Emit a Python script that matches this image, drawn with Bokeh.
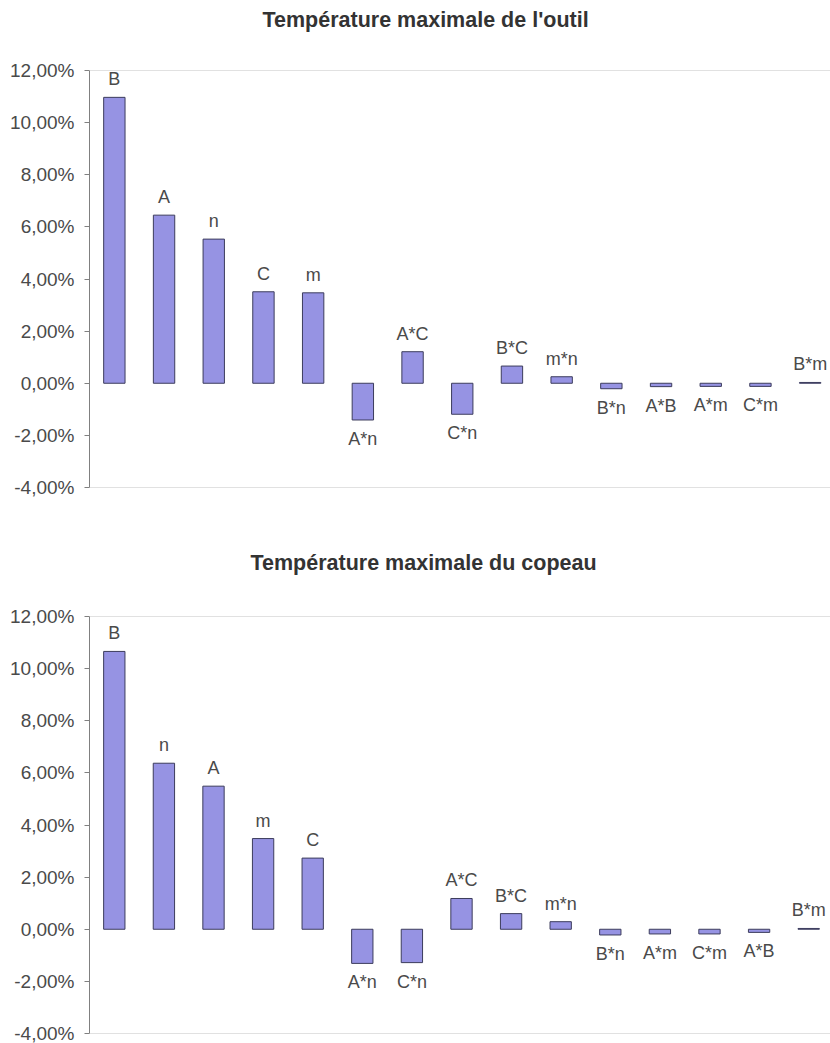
from bokeh.plotting import figure
from bokeh.models import ColumnDataSource, FixedTicker, CustomJSTickFormatter, Span, Range1d, Title
from bokeh.layouts import column
from bokeh.core.properties import value
from bokeh.embed import file_html
from bokeh.resources import INLINE

# ---- data (percent) ----
title_top = "Température maximale de l'outil"
cats_top = ["B", "A", "n", "C", "m", "A*n", "A*C", "C*n", "B*C", "m*n",
            "B*n", "A*B", "A*m", "C*m", "B*m"]
vals_top = [10.97, 6.45, 5.53, 3.51, 3.47, -1.41, 1.21, -1.19, 0.66, 0.25,
            -0.21, -0.13, -0.12, -0.12, 0.03]

title_bot = "Température maximale du copeau"
cats_bot = ["B", "n", "A", "m", "C", "A*n", "C*n", "A*C", "B*C", "m*n",
            "B*n", "A*m", "C*m", "A*B", "B*m"]
vals_bot = [10.66, 6.37, 5.49, 3.48, 2.73, -1.31, -1.28, 1.18, 0.60, 0.29,
            -0.22, -0.18, -0.18, -0.12, 0.03]

y_ticks = [-4, -2, 0, 2, 4, 6, 8, 10, 12]

FONT = "Liberation Sans"
BAR_FILL = "#9693e3"
BAR_LINE = "#3c3c5c"
TXT = "#4a4a4a"


def make_chart(title, cats, vals, width, height, left, bottom, step,
               title_offset, title_standoff, spacer_standoff):
    frame_w = width - left
    x_end = -0.5 + frame_w / step
    p = figure(width=width, height=height, output_backend="svg", toolbar_location=None,
               x_range=Range1d(-0.5, x_end), y_range=Range1d(-4, 12),
               min_border_left=left, min_border_right=0, min_border_top=0,
               min_border_bottom=bottom)
    p.outline_line_color = None
    p.xgrid.visible = False
    p.ygrid.visible = False
    p.xaxis.visible = False
    p.background_fill_color = "white"
    p.border_fill_color = "white"

    # spacer (inner) then real title (outer)
    p.add_layout(Title(text=" ", text_font_size="1px", standoff=spacer_standoff), "above")
    p.add_layout(Title(text=title, align="left", offset=title_offset, standoff=title_standoff,
                       text_font=FONT, text_font_size="21.5px", text_font_style="bold",
                       text_color="#333333"), "above")

    ax = p.yaxis[0]
    ax.ticker = FixedTicker(ticks=y_ticks)
    ax.formatter = CustomJSTickFormatter(code="return tick.toFixed(2).replace('.', ',') + '%';")
    ax.minor_tick_line_color = None
    ax.major_tick_in = 0
    ax.major_tick_out = 5
    ax.major_tick_line_color = "#808080"
    ax.axis_line_color = "#808080"
    ax.major_label_text_font = FONT
    ax.major_label_text_font_size = "19px"
    ax.major_label_text_color = TXT
    ax.major_label_standoff = 10

    for loc in (12, -4):
        p.add_layout(Span(location=loc, dimension="width", line_color="#c4c4c4", line_width=1))

    xs = list(range(len(cats)))
    src = ColumnDataSource(dict(x=xs, top=vals, bottom=[0] * len(vals), cat=cats))
    p.vbar(x="x", top="top", bottom="bottom", width=0.43, source=src,
           fill_color=BAR_FILL, line_color=BAR_LINE, line_width=1)

    pos = ColumnDataSource(dict(x=[x for x, v in zip(xs, vals) if v >= 0],
                                y=[v for v in vals if v >= 0],
                                t=[c for c, v in zip(cats, vals) if v >= 0]))
    neg = ColumnDataSource(dict(x=[x for x, v in zip(xs, vals) if v < 0],
                                y=[v for v in vals if v < 0],
                                t=[c for c, v in zip(cats, vals) if v < 0]))
    p.text(x="x", y="y", text="t", source=pos, text_align="center", text_baseline="bottom",
           y_offset=-8, text_font=value(FONT), text_font_size="18px", text_color=TXT)
    p.text(x="x", y="y", text="t", source=neg, text_align="center", text_baseline="top",
           y_offset=9, text_font=value(FONT), text_font_size="18px", text_color=TXT)
    return p


W = 830
# top chart: frame 70..487 (page px), axis at x=89
p1 = make_chart(title_top, cats_top, vals_top, W, 530, 89, 43, 49.7, 173, 10, 31)
# bottom chart: page y 530..1043, frame 616..1033, axis at x=86
p2 = make_chart(title_bot, cats_bot, vals_bot, W, 513, 86, 10, 49.8, 161, 36, 21)

layout = column(p1, p2, spacing=0)
open("out.html", "w").write(file_html(layout, INLINE))
